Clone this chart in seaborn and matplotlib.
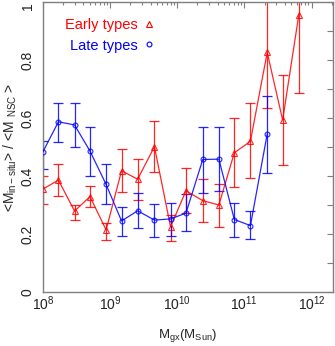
import numpy as np
import pandas as pd
import seaborn as sns
import matplotlib.pyplot as plt
from matplotlib.lines import Line2D
from matplotlib.ticker import MultipleLocator, LogLocator, NullFormatter

# log10 of galaxy mass bins
log_mass_early = [8.0, 8.23, 8.47, 8.70, 8.94, 9.17, 9.41, 9.66, 9.90,
                  10.13, 10.38, 10.62, 10.85, 11.09, 11.34, 11.57, 11.81]
ratio_early = [0.355, 0.386, 0.279, 0.329, 0.214, 0.418, 0.389, 0.501, 0.225,
               0.349, 0.315, 0.300, 0.480, 0.520, 0.826, 0.593, 0.955]
hi_early = [0.400, 0.441, 0.300, 0.366, 0.237, 0.492, 0.457, 0.591, 0.266,
            0.426, 0.390, 0.372, 0.599, 0.653, 1.100, 0.749, 1.100]
lo_early = [0.302, 0.331, 0.248, 0.294, 0.179, 0.345, 0.317, 0.415, 0.177,
            0.271, 0.240, 0.223, 0.361, 0.392, 0.636, 0.438, 0.687]

log_mass_late = [8.0, 8.23, 8.47, 8.70, 8.94, 9.17, 9.41, 9.66, 9.90,
                 10.13, 10.38, 10.62, 10.85, 11.09, 11.34]
ratio_late = [0.484, 0.587, 0.576, 0.486, 0.371, 0.245, 0.280, 0.248, 0.252,
              0.272, 0.457, 0.458, 0.250, 0.229, 0.545]
hi_late = [0.520, 0.653, 0.653, 0.570, 0.443, 0.292, 0.340, 0.303, 0.308,
           0.338, 0.570, 0.570, 0.308, 0.279, 0.677]
lo_late = [0.424, 0.518, 0.499, 0.400, 0.303, 0.194, 0.222, 0.189, 0.193,
           0.210, 0.342, 0.349, 0.191, 0.183, 0.409]


def make_frame(logm, val, lo, hi):
    df = pd.DataFrame({'logm': logm, 'ratio': val, 'lo': lo, 'hi': hi})
    df['mass'] = 10 ** df['logm']
    return df


early = make_frame(log_mass_early, ratio_early, lo_early, hi_early)
late = make_frame(log_mass_late, ratio_late, lo_late, hi_late)

sns.set_style('white')
plt.rcParams['font.family'] = ['Liberation Sans', 'DejaVu Sans']
plt.rcParams['mathtext.fontset'] = 'custom'
plt.rcParams['mathtext.rm'] = 'Liberation Sans'
plt.rcParams['mathtext.it'] = 'Liberation Sans:italic'

fig = plt.figure(figsize=(3.35, 3.46), dpi=100)
ax = fig.add_axes([43 / 335, 54 / 346, 290 / 335, 290 / 346])

# error bars
for df, col in [(early, 'red'), (late, 'blue')]:
    ax.errorbar(df['mass'], df['ratio'],
                yerr=[df['ratio'] - df['lo'], df['hi'] - df['ratio']],
                fmt='none', ecolor=col, elinewidth=0.9, capsize=3.6,
                capthick=0.9, alpha=0.85, zorder=2)

sns.lineplot(data=early, x='mass', y='ratio', color='red', marker='^',
             markersize=4.5, markerfacecolor='none', markeredgecolor='red',
             markeredgewidth=0.8, linewidth=0.9, alpha=0.85, ax=ax, zorder=3)
sns.lineplot(data=late, x='mass', y='ratio', color='blue', marker='o',
             markersize=3.5, markerfacecolor='none', markeredgecolor='blue',
             markeredgewidth=0.8, linewidth=0.9, alpha=0.85, ax=ax, zorder=3)

ax.set_xscale('log')
ax.set_xlim(1e8, 10 ** 12.32)
ax.set_ylim(0, 1)

ax.xaxis.set_major_locator(LogLocator(base=10, numticks=10))
ax.xaxis.set_minor_locator(LogLocator(base=10, subs=np.arange(2, 10), numticks=20))
ax.xaxis.set_minor_formatter(NullFormatter())
ax.set_yticks([0, 0.2, 0.4, 0.6, 0.8, 1.0])
ax.set_yticklabels(['0', '0.2', '0.4', '0.6', '0.8', '1'])
ax.yaxis.set_minor_locator(MultipleLocator(0.1))

grey = '#7f7f7f'
for s in ax.spines.values():
    s.set_color(grey)
    s.set_linewidth(1.0)
ax.tick_params(which='both', direction='in', top=True, right=True,
               color=grey, labelsize=10, labelcolor='#222222')
ax.tick_params(which='major', length=4.5, width=0.8)
ax.tick_params(which='minor', length=2.5, width=0.8)
ax.tick_params(axis='y', which='minor', length=4.0)
ax.tick_params(axis='x', pad=2)
ax.tick_params(axis='y', pad=6)
ylabs = ax.get_yticklabels()
for lab in ylabs:
    lab.set_rotation(90)
    lab.set_va('center')
ylabs[-1].set_va('top')  # keep the top "1" inside the figure

ax.set_xlabel(r'M$_{\rm gx}$(M$_{\rm Sun}$)', fontsize=9.5, labelpad=10)
ax.set_ylabel(r'<M$_{\rm in-situ}$> / <M $_{\rm NSC}$ >', fontsize=10,
              labelpad=1)

handles = [Line2D([], [], ls='none', marker='^', mfc='none', color='red',
                  markersize=4.5, mew=0.8),
           Line2D([], [], ls='none', marker='o', mfc='none', color='blue',
                  markersize=3.5, mew=0.8)]
ax.legend(handles, ['Early types', 'Late types'], loc='upper left',
          bbox_to_anchor=(0.03, 0.99), frameon=False, markerfirst=False,
          labelcolor='linecolor', fontsize=10.5, handlelength=1.0,
          handletextpad=0.3, labelspacing=0.45)

fig.savefig('out.png', dpi=100)
